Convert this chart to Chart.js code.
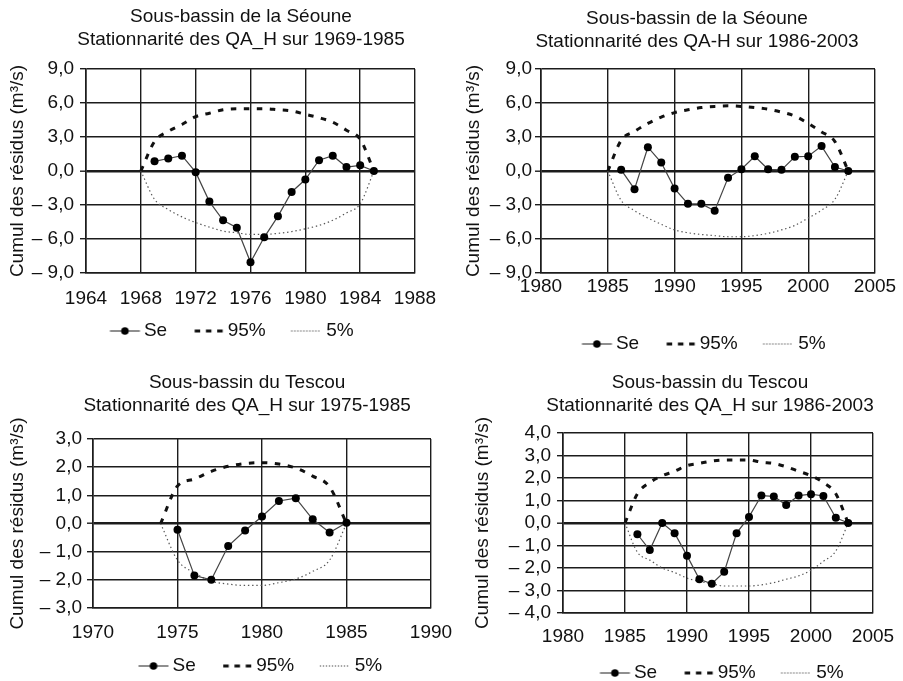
<!DOCTYPE html>
<html><head><meta charset="utf-8">
<script src="https://cdn.jsdelivr.net/npm/chart.js@4.4.1/dist/chart.umd.min.js"></script>
<style>
html,body{margin:0;padding:0;background:#fff;overflow:hidden;}
#wrap{position:relative;width:903px;height:681px;overflow:hidden;background:#fff;}
canvas{position:absolute;}
</style></head><body><div id="wrap">
<canvas id="c1" width="470" height="355" style="left:0px;top:0px"></canvas>
<canvas id="c2" width="476" height="366" style="left:450px;top:0px"></canvas>
<canvas id="c3" width="474" height="341" style="left:0px;top:340px"></canvas>
<canvas id="c4" width="480" height="341" style="left:450px;top:340px"></canvas>
</div>
<script>
// ---------- DATA ----------
const seriesLabels = ['Se', '95%', '5%'];
const yAxisTitle = 'Cumul des résidus (m³/s)';

// Panel 1 : Séoune 1969-1985
const title1 = ['Sous-bassin de la Séoune', 'Stationnarité des QA_H sur 1969-1985'];
const yearsSe1 = [1969,1970,1971,1972,1973,1974,1975,1976,1977,1978,1979,1980,1981,1982,1983,1984,1985];
const se1 = [0.85,1.1,1.35,-0.1,-2.7,-4.35,-5.0,-8.05,-5.85,-4.0,-1.85,-0.75,0.95,1.35,0.35,0.5,0.0];
const yearsEnv1 = [1968,1969,1970,1971,1972,1973,1974,1975,1976,1977,1978,1979,1980,1981,1982,1983,1984,1985];
const up1 = [0,2.6,3.5,4.1,4.8,5.1,5.4,5.5,5.5,5.5,5.4,5.3,5.0,4.7,4.3,3.6,2.8,0];
const low1 = [0,-2.5,-3.4,-4.05,-4.55,-4.95,-5.3,-5.45,-5.6,-5.6,-5.5,-5.35,-5.1,-4.8,-4.35,-3.7,-2.9,0];
const xTicks1 = [1964,1968,1972,1976,1980,1984,1988];
const yTicks1 = [-9,-6,-3,0,3,6,9];

// Panel 2 : Séoune 1986-2003
const title2 = ['Sous-bassin de la Séoune', 'Stationnarité des QA-H sur 1986-2003'];
const yearsSe2 = [1986,1987,1988,1989,1990,1991,1992,1993,1994,1995,1996,1997,1998,1999,2000,2001,2002,2003];
const se2 = [0.1,-1.6,2.1,0.75,-1.55,-2.9,-2.9,-3.5,-0.6,0.15,1.3,0.15,0.1,1.25,1.3,2.2,0.35,0.0];
const yearsEnv2 = [1985,1986,1987,1988,1989,1990,1991,1992,1993,1994,1995,1996,1997,1998,1999,2000,2001,2002,2003];
const up2 = [0,2.7,3.5,4.2,4.75,5.15,5.4,5.6,5.7,5.75,5.7,5.6,5.45,5.2,4.85,4.2,3.45,2.6,0];
const low2 = [0,-2.6,-3.5,-4.15,-4.7,-5.2,-5.45,-5.6,-5.7,-5.8,-5.8,-5.7,-5.5,-5.2,-4.8,-4.15,-3.45,-2.5,0];
const xTicks2 = [1980,1985,1990,1995,2000,2005];
const yTicks2 = [-9,-6,-3,0,3,6,9];

// Panel 3 : Tescou 1975-1985
const title3 = ['Sous-bassin du Tescou', 'Stationnarité des QA_H sur 1975-1985'];
const yearsSe3 = [1975,1976,1977,1978,1979,1980,1981,1982,1983,1984,1985];
const se3 = [-0.22,-1.85,-2.0,-0.8,-0.25,0.25,0.8,0.9,0.15,-0.32,0.03];
const yearsEnv3 = [1974,1975,1976,1977,1978,1979,1980,1981,1982,1983,1984,1985];
const up3 = [0,1.33,1.58,1.85,2.03,2.13,2.16,2.11,1.97,1.68,1.3,0];
const low3 = [0,-1.3,-1.75,-2.05,-2.15,-2.2,-2.2,-2.1,-1.97,-1.7,-1.3,0];
const xTicks3 = [1970,1975,1980,1985,1990];
const yTicks3 = [-3,-2,-1,0,1,2,3];

// Panel 4 : Tescou 1986-2003
const title4 = ['Sous-bassin du Tescou', 'Stationnarité des QA_H sur 1986-2003'];
const yearsSe4 = [1986,1987,1988,1989,1990,1991,1992,1993,1994,1995,1996,1997,1998,1999,2000,2001,2002,2003];
const se4 = [-0.5,-1.2,0.0,-0.45,-1.45,-2.5,-2.7,-2.17,-0.45,0.27,1.22,1.18,0.8,1.22,1.28,1.2,0.23,0.0];
const yearsEnv4 = [1985,1986,1987,1988,1989,1990,1991,1992,1993,1994,1995,1996,1997,1998,1999,2000,2001,2002,2003];
const up4 = [0,1.3,1.8,2.1,2.3,2.55,2.65,2.75,2.8,2.8,2.8,2.7,2.65,2.5,2.3,2.1,1.8,1.3,0];
const low4 = [0,-1.3,-1.65,-2.0,-2.2,-2.45,-2.6,-2.7,-2.8,-2.8,-2.8,-2.75,-2.65,-2.5,-2.35,-2.1,-1.7,-1.25,0];
const xTicks4 = [1980,1985,1990,1995,2000,2005];
const yTicks4 = [-4,-3,-2,-1,0,1,2,3,4];

// ---------- STYLE / LAYOUT ----------
const FONT = "'Liberation Sans', Arial, sans-serif";
const INK = '#111';
const GRID = '#1c1c1c';
const TF = 19;      // title font
const TLH = 23;     // title line height
const KF = 19;      // tick font
const KLH = KF * 1.2;
const LF = 19;      // legend font
const YW = 70;      // y-axis box width

function fmtY(v) {
  const s = Math.abs(v).toFixed(1).replace('.', ',');
  return v < 0 ? '\u2013 ' + s : s;
}
function pts(xs, ys) { return xs.map((x, i) => ({x: x, y: ys[i]})); }

function makeIcon(kind, B, iw, gapText) {
  const rightOff = B / 2 + LF / 2 - gapText;
  const leftOff = rightOff - iw;
  const Wimg = 2 * Math.ceil(Math.max(Math.abs(rightOff), Math.abs(leftOff))) + 2;
  const Himg = 12;
  const c = document.createElement('canvas');
  c.width = Wimg; c.height = Himg;
  const g = c.getContext('2d');
  const x0 = Wimg / 2 + leftOff, x1 = Wimg / 2 + rightOff, ym = Himg / 2;
  if (kind === 'se') {
    g.strokeStyle = '#444'; g.lineWidth = 1.2;
    g.beginPath(); g.moveTo(x0, ym); g.lineTo(x1, ym); g.stroke();
    g.fillStyle = '#000'; g.beginPath(); g.arc((x0 + x1) / 2, ym, 3.8, 0, Math.PI * 2); g.fill();
  } else if (kind === 'dash') {
    const dl = 5.5, per = (iw - dl) / 2;
    g.fillStyle = INK;
    for (let k = 0; k < 3; k++) g.fillRect(x0 + k * per, ym - 1.5, dl, 3);
  } else {
    g.fillStyle = '#555';
    for (let x = x0; x <= x1 - 1; x += 3) g.fillRect(x, ym - 0.6, 1.2, 1.2);
  }
  return c;
}

function build(id, L, D) {
  const cl = L.cl, ct = L.ct, W = L.W, H = L.H, ca = L.chart;
  const boxLeft = ca.l - YW;
  const boxRight = 2 * L.cx - boxLeft;
  const rightW = boxRight - ca.r;
  const padL = boxLeft - cl;
  const padR = cl + W - boxRight;
  const padB = H - (L.legendY - ct) - LF / 2 - 10;
  const tPadTop = L.titleY1 - ct - TLH / 2;
  const tPadBot = (ca.t - ct) - tPadTop - 2 * TLH;
  const legendTopRel = (L.legendY - ct) - L.P - LF / 2;
  const xH = Math.max(0, legendTopRel - (ca.b - ct));
  const xTickPad = -(L.xLabelY - ca.b + KLH / 2);
  const yTitlePad = L.yTitleX - boxLeft - KLH / 2;
  const icons = [makeIcon('se', L.B, 30, 4), makeIcon('dash', L.B, 28, 5), makeIcon('dot', L.B, 28, 7)];
  const gridW = (c) => (c.tick && c.tick.value === 0 ? 2.4 : 1.4);

  return new Chart(document.getElementById(id), {
    type: 'line',
    data: {
      datasets: [
        {label: seriesLabels[0], data: pts(D.xs, D.se), borderColor: '#444', borderWidth: 1.2,
         pointRadius: 4, pointBackgroundColor: '#000', pointBorderColor: '#000', pointBorderWidth: 0, tension: 0},
        {label: seriesLabels[1], data: pts(D.xe, D.up), borderColor: INK, borderWidth: 3, borderDash: [5.5, 7.5],
         pointRadius: 0, cubicInterpolationMode: 'monotone'},
        {label: seriesLabels[2], data: pts(D.xe, D.low), borderColor: '#555', borderWidth: 1.2, borderDash: [1.4, 2.8],
         pointRadius: 0, cubicInterpolationMode: 'monotone'}
      ]
    },
    options: {
      responsive: false, animation: false, events: [],
      layout: {padding: {left: padL, right: padR, top: 0, bottom: padB}},
      scales: {
        x: {
          type: 'linear', min: D.xt[0], max: D.xt[D.xt.length - 1],
          afterBuildTicks: (s) => { s.ticks = D.xt.map(v => ({value: v})); },
          afterFit: (s) => { s.height = xH; },
          ticks: {autoSkip: false, maxRotation: 0, minRotation: 0, mirror: true, padding: xTickPad, color: INK,
                  font: {family: FONT, size: KF, lineHeight: 1.2}, callback: (v) => String(v)},
          grid: {color: GRID, lineWidth: 1.4, drawTicks: false},
          border: {display: true, color: GRID, width: 1.6}
        },
        y: {
          type: 'linear', position: 'left', min: D.yt[0], max: D.yt[D.yt.length - 1],
          afterBuildTicks: (s) => { s.ticks = D.yt.map(v => ({value: v})); },
          afterFit: (s) => { s.width = YW; },
          ticks: {autoSkip: false, padding: L.yTickPad, color: INK,
                  font: {family: FONT, size: KF, lineHeight: 1.2}, callback: (v) => fmtY(v)},
          grid: {color: GRID, lineWidth: gridW, drawTicks: true, tickLength: 6, tickColor: GRID, tickWidth: 1.4},
          border: {display: true, color: GRID, width: 1.6},
          title: {display: true, text: yAxisTitle, color: INK, font: {family: FONT, size: KF, lineHeight: 1.2},
                  padding: {top: yTitlePad, bottom: 0}}
        },
        yPad: {
          type: 'linear', position: 'right', display: true,
          afterFit: (s) => { s.width = rightW; },
          ticks: {display: false}, grid: {display: false, drawTicks: false}, border: {display: false}
        }
      },
      plugins: {
        tooltip: {enabled: false},
        title: {display: true, text: D.title, color: INK, font: {family: FONT, size: TF, lineHeight: TLH / TF, weight: 'normal'},
                padding: {top: tPadTop, bottom: tPadBot}},
        legend: {
          display: true, position: 'bottom', align: 'center',
          labels: {
            usePointStyle: true, pointStyleWidth: L.B, padding: L.P, color: INK,
            font: {family: FONT, size: LF},
            generateLabels: (chart) => chart.data.datasets.map((ds, i) => ({
              text: ds.label, pointStyle: icons[i], datasetIndex: i, hidden: false,
              fontColor: INK, lineWidth: 0, fillStyle: 'rgba(0,0,0,0)', strokeStyle: 'rgba(0,0,0,0)'
            }))
          }
        }
      }
    }
  });
}

build('c1', {cl: 0, ct: 0, W: 470, H: 355, chart: {l: 86, t: 69, r: 415, b: 273},
             titleY1: 16.3, xLabelY: 299, legendY: 331, yTitleX: 17.5, cx: 241, B: 6, P: 45, yTickPad: 6},
  {title: title1, xs: yearsSe1, se: se1, xe: yearsEnv1, up: up1, low: low1, xt: xTicks1, yt: yTicks1});
build('c2', {cl: 450, ct: 0, W: 476, H: 366, chart: {l: 541, t: 69, r: 875, b: 273},
             titleY1: 18.3, xLabelY: 286.7, legendY: 344, yTitleX: 474, cx: 697, B: 38, P: 13, yTickPad: 3},
  {title: title2, xs: yearsSe2, se: se2, xe: yearsEnv2, up: up2, low: low2, xt: xTicks2, yt: yTicks2});
build('c3', {cl: 0, ct: 340, W: 474, H: 341, chart: {l: 93, t: 439, r: 431, b: 608},
             titleY1: 383, xLabelY: 633, legendY: 666, yTitleX: 17.5, cx: 247.1, B: 51, P: 0, yTickPad: 5},
  {title: title3, xs: yearsSe3, se: se3, xe: yearsEnv3, up: up3, low: low3, xt: xTicks3, yt: yTicks3});
build('c4', {cl: 450, ct: 340, W: 480, H: 341, chart: {l: 563, t: 433, r: 873, b: 613},
             titleY1: 383, xLabelY: 637, legendY: 673, yTitleX: 482.5, cx: 710, B: 48, P: 3, yTickPad: 6},
  {title: title4, xs: yearsSe4, se: se4, xe: yearsEnv4, up: up4, low: low4, xt: xTicks4, yt: yTicks4});
</script>
</body></html>
